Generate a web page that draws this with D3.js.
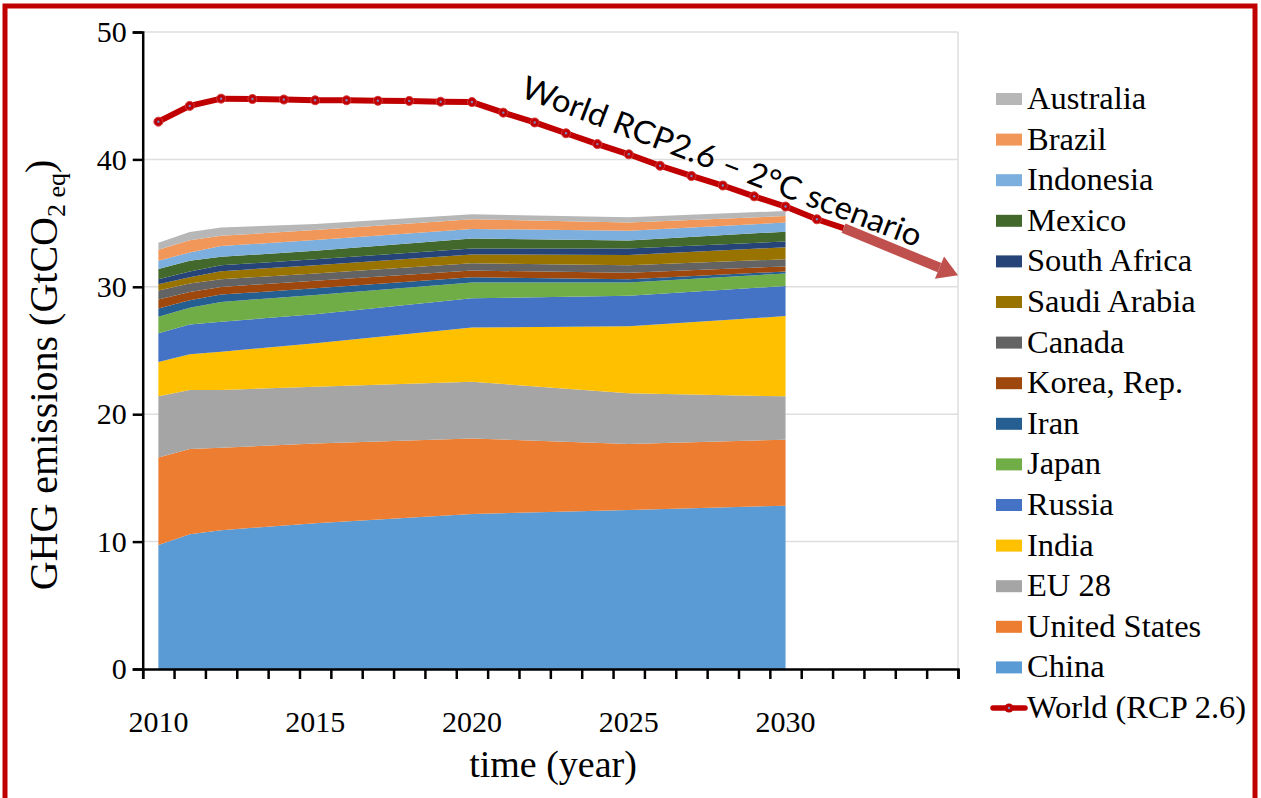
<!DOCTYPE html>
<html>
<head>
<meta charset="utf-8">
<script src="https://cdn.jsdelivr.net/npm/d3@7"></script>
<style>
  body { margin: 0; background: #fff; }
  svg { display: block; }
  text { font-family: "Liberation Serif", "Times New Roman", serif; fill: #000; }
</style>
</head>
<body>
<svg id="grafico" width="1261" height="798"></svg>
<script>
// años con datos para las áreas apiladas
const years = [2010, 2011, 2012, 2015, 2020, 2025, 2030];

// emisiones por país (GtCO2 eq), orden de apilado de abajo hacia arriba
const china = [9.73, 10.57, 10.9, 11.45, 12.17, 12.48, 12.82];
const unitedStates = [6.87, 6.7, 6.47, 6.25, 5.93, 5.18, 5.18];
const eu28 = [4.8, 4.63, 4.53, 4.46, 4.45, 3.98, 3.4];
const india = [2.7, 2.8, 3.0, 3.41, 4.25, 5.26, 6.3];
const russia = [2.25, 2.35, 2.36, 2.27, 2.3, 2.4, 2.36];
const japan = [1.3, 1.3, 1.55, 1.52, 1.23, 1.03, 0.99];
const iran = [0.65, 0.6, 0.58, 0.52, 0.41, 0.27, 0.15];
const korea = [0.7, 0.65, 0.6, 0.6, 0.53, 0.5, 0.4];
const canada = [0.7, 0.65, 0.6, 0.57, 0.57, 0.6, 0.56];
const saudiArabia = [0.5, 0.5, 0.63, 0.65, 0.7, 0.8, 0.94];
const southAfrica = [0.4, 0.45, 0.47, 0.46, 0.46, 0.5, 0.45];
const mexico = [0.8, 0.85, 0.66, 0.67, 0.8, 0.63, 0.78];
const indonesia = [0.65, 0.65, 0.85, 0.84, 0.74, 0.77, 0.71];
const brazil = [0.85, 0.95, 0.8, 0.79, 0.76, 0.64, 0.52];
const australia = [0.55, 0.65, 0.65, 0.47, 0.4, 0.41, 0.39];

const countries = ["China", "United States", "EU 28", "India", "Russia", "Japan", "Iran",
  "Korea, Rep.", "Canada", "Saudi Arabia", "South Africa", "Mexico", "Indonesia", "Brazil", "Australia"];
const series = [china, unitedStates, eu28, india, russia, japan, iran,
  korea, canada, saudiArabia, southAfrica, mexico, indonesia, brazil, australia];
const colors = ["#5B9BD5", "#ED7D31", "#A5A5A5", "#FFC000", "#4472C4", "#70AD47", "#255E91",
  "#9E480E", "#636363", "#997300", "#264478", "#43682B", "#7CAFDD", "#F1975A", "#B7B7B7"];

// escenario mundial RCP 2.6
const worldYears = [2010, 2011, 2012, 2013, 2014, 2015, 2016, 2017, 2018, 2019, 2020,
  2021, 2022, 2023, 2024, 2025, 2026, 2027, 2028, 2029, 2030, 2031];
const worldValues = [42.96, 44.2, 44.77, 44.74, 44.7, 44.64, 44.64, 44.6, 44.59, 44.53, 44.5,
  43.67, 42.9, 42.05, 41.2, 40.4, 39.5, 38.7, 37.95, 37.1, 36.3, 35.3];
// tramo final de la línea y flecha de tendencia
const trendYears = [2031.85, 2035.5];
const trendValues = [34.6, 30.9];

const yTicks = [0, 10, 20, 30, 40, 50];
const xLabels = [2010, 2015, 2020, 2025, 2030];

const svg = d3.select("#grafico");

// marco rojo
svg.append("rect")
  .attr("x", 5).attr("y", 6)
  .attr("width", 1250).attr("height", 820)
  .attr("fill", "none")
  .attr("stroke", "#C00000")
  .attr("stroke-width", 5);

const x = d3.scaleLinear().domain([2009.5, 2035.5]).range([142.7, 958]);
const y = d3.scaleLinear().domain([0, 50]).range([669, 32]);

// rejilla
svg.append("g")
  .selectAll("line")
  .data(yTicks.filter(d => d > 0))
  .enter()
  .append("line")
  .attr("x1", x.range()[0]).attr("x2", x.range()[1])
  .attr("y1", d => y(d)).attr("y2", d => y(d))
  .attr("stroke", "#DEDEDE")
  .attr("stroke-width", 1.5);

svg.append("line")
  .attr("x1", x.range()[1]).attr("x2", x.range()[1])
  .attr("y1", y(50)).attr("y2", y(0))
  .attr("stroke", "#DEDEDE")
  .attr("stroke-width", 1.5);

// áreas apiladas
const tabla = years.map((yr, i) => {
  const fila = { year: yr };
  countries.forEach((c, j) => { fila[c] = series[j][i]; });
  return fila;
});
const stack = d3.stack().keys(countries);
const capas = stack(tabla);

const area = d3.area()
  .x(d => x(d.data.year))
  .y0(d => y(d[0]))
  .y1(d => y(d[1]));

svg.append("g")
  .selectAll("path")
  .data(capas)
  .enter()
  .append("path")
  .attr("d", area)
  .attr("fill", (d, i) => colors[i]);

// ejes
const ejeY = svg.append("g")
  .attr("transform", `translate(${x.range()[0]},0)`)
  .call(d3.axisLeft(y).tickValues(yTicks).tickSize(10).tickPadding(6));
ejeY.select(".domain").attr("stroke", "#000").attr("stroke-width", 2.5);
ejeY.selectAll(".tick line").attr("stroke", "#000").attr("stroke-width", 2.5);
ejeY.selectAll(".tick text")
  .style("font-family", "'Liberation Serif'")
  .style("font-size", "30px");

const ejeX = svg.append("g")
  .attr("transform", `translate(0,${y(0)})`)
  .call(d3.axisBottom(x).tickValues(d3.range(2009.5, 2036, 1)).tickSize(10).tickFormat(""));
ejeX.select(".domain").attr("stroke", "#000").attr("stroke-width", 2.5);
ejeX.selectAll(".tick line").attr("stroke", "#000").attr("stroke-width", 2.5);

svg.append("g")
  .selectAll("text")
  .data(xLabels)
  .enter()
  .append("text")
  .attr("x", d => x(d))
  .attr("y", 732)
  .attr("text-anchor", "middle")
  .style("font-size", "30px")
  .text(d => d);

// títulos de ejes
svg.append("text")
  .attr("x", 553).attr("y", 777)
  .attr("text-anchor", "middle")
  .style("font-size", "38px")
  .text("time (year)");

const tituloY = svg.append("text")
  .attr("transform", "translate(57,375) rotate(-90)")
  .attr("text-anchor", "middle")
  .style("font-size", "40px");
tituloY.append("tspan").text("GHG emissions (GtCO");
tituloY.append("tspan").attr("dy", "0.3em").style("font-size", "26px").text("2 eq");
tituloY.append("tspan").attr("dy", "-0.3em").text(")");

// línea mundial
const linea = d3.line()
  .x(d => x(d[0]))
  .y(d => y(d[1]));

const puntosMundo = worldYears.map((yr, i) => [yr, worldValues[i]]);

svg.append("path")
  .attr("d", linea(puntosMundo.concat([[trendYears[0], trendValues[0]]])))
  .attr("fill", "none")
  .attr("stroke", "#C00000")
  .attr("stroke-width", 6)
  .attr("stroke-linejoin", "round");

svg.append("g")
  .selectAll("circle")
  .data(puntosMundo)
  .enter()
  .append("circle")
  .attr("cx", d => x(d[0]))
  .attr("cy", d => y(d[1]))
  .attr("r", 4.5)
  .attr("fill", "#C00000")
  .attr("stroke", "#D43A3A")
  .attr("stroke-width", 1);

svg.append("g")
  .selectAll("circle")
  .data(puntosMundo)
  .enter()
  .append("circle")
  .attr("cx", d => x(d[0]))
  .attr("cy", d => y(d[1]))
  .attr("r", 1.2)
  .attr("fill", "#7B86C4");

// flecha de tendencia
const x1 = x(trendYears[0]), y1 = y(trendValues[0]);
const x2 = x(trendYears[1]), y2 = y(trendValues[1]);
const ang = Math.atan2(y2 - y1, x2 - x1);
const largoPunta = 20, anchoPunta = 12;
const bx = x2 - largoPunta * Math.cos(ang), by = y2 - largoPunta * Math.sin(ang);

svg.append("line")
  .attr("x1", x1).attr("y1", y1)
  .attr("x2", bx).attr("y2", by)
  .attr("stroke", "#C0504D")
  .attr("stroke-width", 10);

svg.append("path")
  .attr("d", `M${x2},${y2} L${bx - anchoPunta * Math.sin(ang)},${by + anchoPunta * Math.cos(ang)} L${bx + anchoPunta * Math.sin(ang)},${by - anchoPunta * Math.cos(ang)} Z`)
  .attr("fill", "#C0504D");

// anotación
svg.append("text")
  .attr("transform", "translate(718,172) rotate(20.8)")
  .attr("text-anchor", "middle")
  .attr("textLength", 425)
  .attr("lengthAdjust", "spacingAndGlyphs")
  .style("font-family", "Lato, 'Open Sans', sans-serif")
  .style("font-size", "32px")
  .text("World RCP2.6 \u2013 2\u00B0C scenario");

// leyenda
const leyenda = countries.map((c, i) => ({ name: c, color: colors[i] })).reverse();
const legendY0 = 99, legendStep = 40.6;

const filas = svg.append("g")
  .selectAll("g")
  .data(leyenda)
  .enter()
  .append("g")
  .attr("transform", (d, i) => `translate(996,${legendY0 + i * legendStep})`);

filas.append("rect")
  .attr("x", 0).attr("y", -6)
  .attr("width", 26).attr("height", 12)
  .attr("fill", d => d.color);

filas.append("text")
  .attr("x", 31).attr("y", 10)
  .style("font-size", "32.5px")
  .text(d => d.name);

const filaMundo = svg.append("g")
  .attr("transform", `translate(996,${legendY0 + leyenda.length * legendStep})`);
filaMundo.append("line")
  .attr("x1", -3).attr("x2", 29)
  .attr("stroke", "#C00000").attr("stroke-width", 5.5).attr("stroke-linecap", "round");
filaMundo.append("circle").attr("cx", 13).attr("r", 4.5).attr("fill", "#C00000");
filaMundo.append("circle").attr("cx", 13).attr("r", 1.2).attr("fill", "#7B86C4");
filaMundo.append("text")
  .attr("x", 31).attr("y", 10)
  .style("font-size", "32.5px")
  .text("World (RCP 2.6)");
</script>
</body>
</html>
